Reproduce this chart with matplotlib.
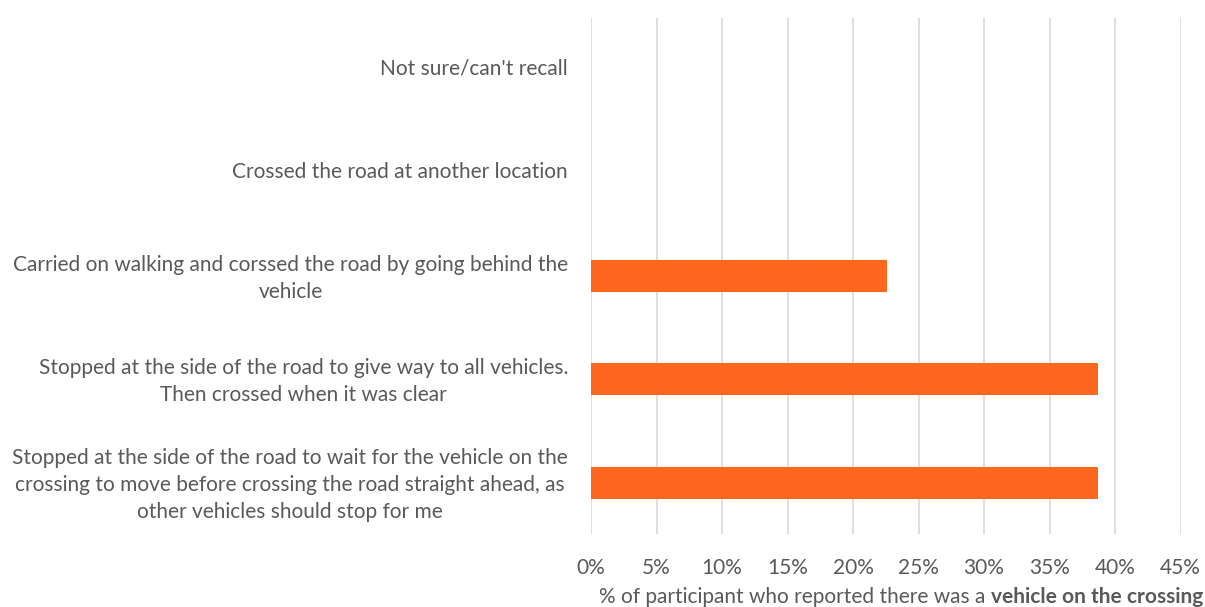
import matplotlib
matplotlib.use("Agg")
import matplotlib.pyplot as plt
from matplotlib.ticker import FuncFormatter, MultipleLocator
from matplotlib.transforms import ScaledTranslation

categories = [
    "Stopped at the side of the road to wait for the vehicle on the\ncrossing to move before crossing the road straight ahead, as\nother vehicles should stop for me",
    "Stopped at the side of the road to give way to all vehicles.\nThen crossed when it was clear",
    "Carried on walking and corssed the road by going behind the\nvehicle",
    "Crossed the road at another location",
    "Not sure/can't recall",
]
values = [38.7, 38.7, 22.6, 0, 0]
xlabel_normal = "% of participant who reported there was a "
xlabel_bold = "vehicle on the crossing"

plt.rcParams['font.family'] = ['Lato', 'DejaVu Sans']
W, H = 1205, 607
fig = plt.figure(figsize=(W / 100, H / 100), dpi=100)
ax = fig.add_axes([591 / W, (H - 534.2) / H, (1180.5 - 591) / W, (534.2 - 17.5) / H])

txt = "#595959"
fs = 15
ax.barh(range(len(categories)), values, height=0.31, color="#FF671F", zorder=3)
ax.set_xlim(0, 45)
ax.set_ylim(-0.5, len(categories) - 0.5)
ax.xaxis.set_major_locator(MultipleLocator(5))
ax.xaxis.set_major_formatter(FuncFormatter(lambda v, p: f"{v:.0f}%"))
ax.set_yticks(range(len(categories)))
ax.set_yticklabels(categories, multialignment="center", linespacing=1.45)
ax.grid(axis="x", color="#d9d9d9", linewidth=1.2, zorder=0)
for s in ax.spines.values():
    s.set_visible(False)
ax.tick_params(axis="both", length=0, colors=txt, labelsize=fs)
ax.tick_params(axis="y", pad=16.5)
ax.tick_params(axis="x", pad=17)

shift = ScaledTranslation(0, 3 / 100, fig.dpi_scale_trans)
for lab in ax.get_yticklabels():
    lab.set_transform(lab.get_transform() + shift)

t1 = fig.text(599 / W, (H - 597) / H, xlabel_normal, fontsize=fs, color=txt,
              ha="left", va="center")
ax.annotate(xlabel_bold, xy=(1, 0.5), xycoords=t1, fontsize=fs, color=txt,
            fontweight="bold", ha="left", va="center")

fig.savefig("out.png", dpi=100)
